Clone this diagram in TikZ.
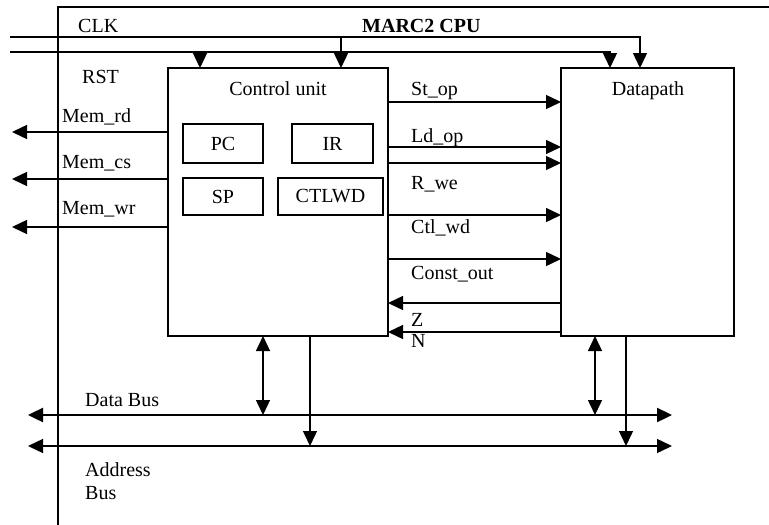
\documentclass[tikz,border=0pt]{standalone}
\usepackage{fontspec}
\setmainfont{Liberation Serif}
\usetikzlibrary{arrows.meta,positioning}

\tikzset{
  blk/.style={draw, line width=1.4pt, inner sep=0pt, outer sep=0pt, anchor=north west},
  reg/.style={draw, line width=1.4pt, inner sep=0pt, outer sep=0pt},
  sig/.style={line width=1.4pt, -{Triangle[length=15pt,width=14pt]}},
  dsig/.style={line width=1.4pt, {Triangle[length=15pt,width=14pt]}-{Triangle[length=15pt,width=14pt]}},
  lbl/.style={anchor=base west, inner sep=0pt},
}

\begin{document}
\begin{tikzpicture}[x=1pt, y=-1pt, font=\fontsize{20}{23}\selectfont]
\useasboundingbox (0,0) rectangle (769,525);
\draw[line width=1.4pt] (58,525) -- (58,7) -- (769,7);

\node[blk, minimum width=220pt, minimum height=268pt] (cu) at (168,68) {};
\node[blk, minimum width=173pt, minimum height=268pt] (dp) at (561,68) {};
\node[anchor=base, inner sep=0pt] (cutitle) at (278,95) {Control unit};
\node[anchor=base, inner sep=0pt] (dptitle) at (648,95) {Datapath};

\node[reg, minimum width=80pt, minimum height=39pt] (pc) at (223,143.5) {PC};
\node[reg, minimum width=81pt, minimum height=39pt] (ir) at (332.5,143.5) {IR};
\node[reg, minimum width=80pt, minimum height=37pt] (sp) at (223,196.5) {SP};
\node[reg, minimum width=105pt, minimum height=37pt] (ctlwd) at (330.5,196.5) {CTLWD};

\node[lbl, font=\fontsize{20}{23}\selectfont\bfseries] (title) at (362,32) {MARC2 CPU};
\node[lbl] (clklbl) at (78,32) {CLK};
\node[lbl] (rstlbl) at (82,83) {RST};

% clock and reset
\coordinate (clk) at (10,37);
\coordinate (rst) at (10,52);
\coordinate (clkcu) at ([xshift=173pt]cu.north west);
\coordinate (rstcu) at ([xshift=32pt]cu.north west);
\draw[sig] (clk) -| ([xshift=79pt]dp.north west);
\draw[sig] (rst) -| ([xshift=49pt]dp.north west);
\draw[sig] (clkcu |- clk) -- (clkcu);
\draw[sig] (rstcu |- rst) -- (rstcu);

% memory control
\foreach \yy/\txt in {122/Mem\_rd, 168/Mem\_cs, 214/Mem\_wr}
  \node[lbl] (ml-\yy) at (62,\yy) {\txt};
\foreach \yy in {132,179,227} {
  \coordinate (m\yy) at (12,\yy);
  \draw[sig] (cu.west |- m\yy) -- (m\yy);
}

% control unit <-> datapath
\foreach \yy in {102,147,163,215,259}
  \draw[sig] (cu.east |- 0,\yy) -- (dp.west |- 0,\yy);
\foreach \yy in {303,332}
  \draw[sig] (dp.west |- 0,\yy) -- (cu.east |- 0,\yy);
\foreach \yy/\txt in {95/St\_op, 142/Ld\_op, 189/R\_we, 233/Ctl\_wd, 279/Const\_out, 326/Z, 347/N}
  \node[lbl] (sl-\yy) at (411,\yy) {\txt};

% buses
\coordinate (dbL) at (28,415);
\coordinate (dbR) at (672,415);
\coordinate (abL) at (28,446);
\coordinate (abR) at (672,446);
\draw[dsig, line width=2.4pt] (dbL) -- (dbR);
\draw[dsig] (abL) -- (abR);
\node[lbl] (dbus) at (85,406) {Data Bus};
\node[lbl] (abus) at (85,476) {Address};
\node[lbl] (abus2) at (85,499) {Bus};

\coordinate (cuD) at ([xshift=95pt]cu.south west);
\coordinate (cuA) at ([xshift=142pt]cu.south west);
\coordinate (dpD) at ([xshift=34pt]dp.south west);
\coordinate (dpA) at ([xshift=65pt]dp.south west);
\draw[dsig] (cuD) -- (cuD |- dbL);
\draw[dsig] (dpD) -- (dpD |- dbL);
\draw[sig] (cuA) -- (cuA |- abL);
\draw[sig] (dpA) -- (dpA |- abL);
\end{tikzpicture}
\end{document}
